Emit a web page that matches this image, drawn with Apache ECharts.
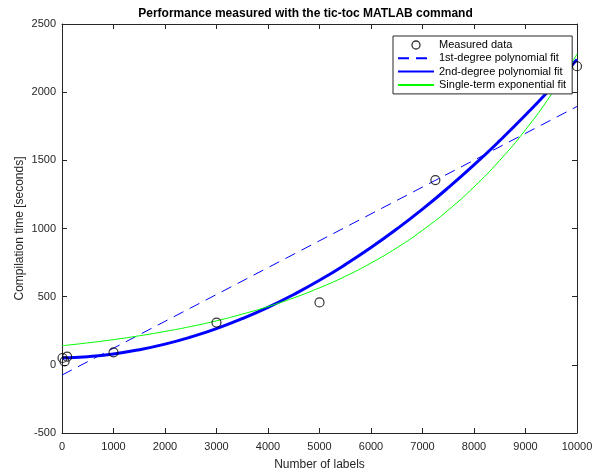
<!DOCTYPE html>
<html><head><meta charset="utf-8">
<script src="https://cdn.jsdelivr.net/npm/echarts@6/dist/echarts.min.js"></script>
<style>html,body{margin:0;padding:0;background:#fff}#c{width:611px;height:476px}</style>
</head><body><div id="c"></div>
<script>
// Measured data (number of labels, seconds)
const measuredX = [10, 50, 100, 1000, 3000, 5000, 7250, 10000];
const measuredY = [50, 25, 60, 92, 310, 458, 1355, 2190];
// 1st-degree polynomial fit (read at endpoints)
const linX = [0, 10000];
const linY = [-75, 1895];
// curve samples
const fitX = [0,500,1000,1500,2000,2500,3000,3500,4000,4500,5000,5500,6000,6500,7000,7500,8000,8500,9000,9500,10000];
const quadY = [50,60,80,111,152,204,266,339,422,516,620,735,860,996,1142,1299,1466,1644,1832,2031,2240];
const expY = [140,161,185,213,245,281,323,372,427,491,565,649,747,858,987,1135,1305,1500,1724,1983,2279];
const xTicks = [0,1000,2000,3000,4000,5000,6000,7000,8000,9000,10000];
const yTicks = [-500,0,500,1000,1500,2000,2500];

const zip = (a,b) => a.map((v,i)=>[v,b[i]]);
const font = 'Liberation Sans, Arial, Helvetica, sans-serif';
const axCol = '#262626';
const chart = echarts.init(document.getElementById('c'), null, {renderer:'canvas'});
const baseX = {
  type:'value', min:xTicks[0], max:xTicks[xTicks.length-1], interval:1000,
  axisLine:{show:true, onZero:false, lineStyle:{color:axCol, width:1}},
  axisTick:{show:true, inside:true, length:5, lineStyle:{color:axCol}},
  splitLine:{show:false}
};
const baseY = {
  type:'value', min:yTicks[0], max:yTicks[yTicks.length-1], interval:500,
  axisLine:{show:true, onZero:false, lineStyle:{color:axCol, width:1}},
  axisTick:{show:true, inside:true, length:5, lineStyle:{color:axCol}},
  splitLine:{show:false}
};
const fmt = v => String(v);
chart.setOption({
  animation:false,
  backgroundColor:'#fff',
  title:{text:'Performance measured with the tic-toc MATLAB command', left:'center', top:3,
    textStyle:{fontFamily:font, fontSize:12, fontWeight:'bold', color:'#000'}},
  grid:{left:62, right:34, top:24, bottom:43},
  legend:{
    left:393, top:36, orient:'vertical', itemWidth:36, itemHeight:8, itemGap:1.3,
    padding:[3,6,3,4], borderColor:axCol, borderWidth:1, backgroundColor:'#fff',
    textStyle:{fontFamily:font, fontSize:11, lineHeight:12, color:'#000', padding:[0,0,0,0]},
    data:[
      {name:'Measured data', icon:'circle', itemStyle:{color:'rgba(0,0,0,0)', borderColor:'#000', borderWidth:1.3}},
      {name:'1st-degree polynomial fit', itemStyle:{opacity:0}},
      {name:'2nd-degree polynomial fit', itemStyle:{opacity:0}},
      {name:'Single-term exponential fit', itemStyle:{opacity:0}}
    ]
  },
  xAxis:[
    Object.assign({}, baseX, {position:'bottom', name:'Number of labels', nameLocation:'middle', nameGap:26,
      nameMoveOverlap:false,
      nameTextStyle:{fontFamily:font, fontSize:12, color:axCol},
      axisLabel:{fontFamily:font, fontSize:11, color:axCol, margin:8, formatter:fmt}}),
    Object.assign({}, baseX, {position:'top', axisLabel:{show:false}})
  ],
  yAxis:[
    Object.assign({}, baseY, {position:'left', name:'Compilation time [seconds]', nameLocation:'middle', nameGap:36,
      nameMoveOverlap:false,
      nameTextStyle:{fontFamily:font, fontSize:12, color:axCol},
      axisLabel:{fontFamily:font, fontSize:11, color:axCol, margin:6, formatter:fmt}}),
    Object.assign({}, baseY, {position:'right', axisLabel:{show:false}})
  ],
  series:[
    {name:'Measured data', type:'scatter', data:zip(measuredX, measuredY), symbol:'circle', symbolSize:9,
      itemStyle:{color:'rgba(0,0,0,0)', borderColor:'#000', borderWidth:1.2}, z:5},
    {name:'1st-degree polynomial fit', type:'line', data:zip(linX, linY), symbol:'none',
      lineStyle:{color:'#0000ff', width:1, type:[11,7]}, itemStyle:{color:'#0000ff'}},
    {name:'2nd-degree polynomial fit', type:'line', data:zip(fitX, quadY), symbol:'none', smooth:true,
      lineStyle:{color:'#0000ff', width:3}, itemStyle:{color:'#0000ff'}},
    {name:'Single-term exponential fit', type:'line', data:zip(fitX, expY), symbol:'none', smooth:true,
      lineStyle:{color:'#00ff00', width:1}, itemStyle:{color:'#00ff00'}}
  ]
});
</script></body></html>
